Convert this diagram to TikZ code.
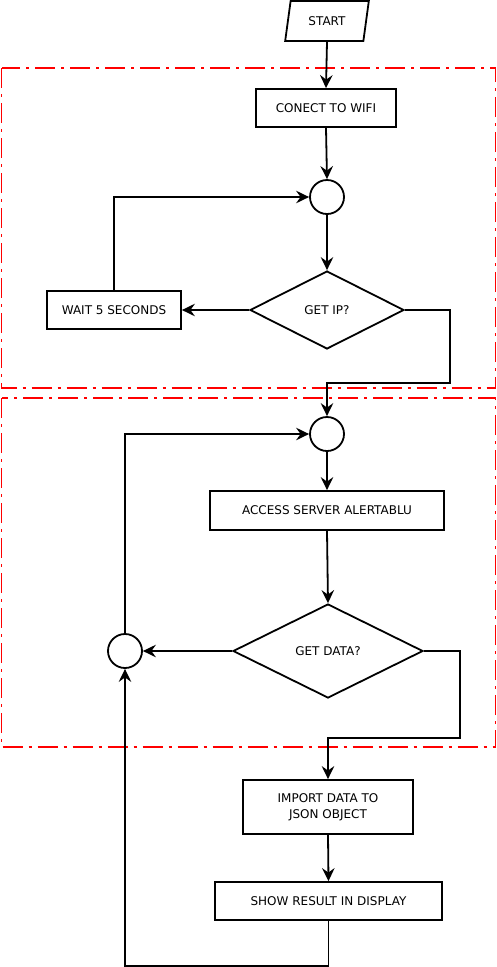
\documentclass[tikz,border=0pt]{standalone}
\usepackage{fontspec}
\setmainfont{DejaVu Sans}
\usetikzlibrary{shapes.geometric,arrows.meta}
\begin{document}
\begin{tikzpicture}[x=1pt,y=-1pt,
  every node/.style={font=\fontsize{12}{16}\selectfont},
  box/.style={draw,line width=1.8pt,rectangle,inner sep=0pt,align=center},
  dec/.style={draw,line width=1.8pt,diamond,inner sep=0pt},
  jn/.style={draw,line width=1.8pt,circle,inner sep=0pt,minimum size=34pt},
  io/.style={draw,line width=1.8pt,trapezium,trapezium left angle=73,trapezium right angle=107,trapezium stretches=true,inner sep=0pt,minimum width=84pt,minimum height=40pt},
  arr/.style={line width=1.8pt,-{Stealth[length=13pt,width=12.5pt,inset=4.5pt]}},
  redbox/.style={draw=red,line width=1.6pt,dash pattern=on 20pt off 6pt on 3pt off 6pt}]
\useasboundingbox (0,0) rectangle (497,967);
\draw[redbox] (1.5,68) rectangle (495.5,388);
\draw[redbox] (1.5,398) rectangle (495.5,747);
\node[io] (start) at (327,21) {START};
\node[box,minimum width=140pt,minimum height=38pt] (wifi) at (326,108) {CONECT TO WIFI};
\node[jn] (c1) at (327,197) {};
\node[dec,minimum width=154pt,minimum height=78pt] (ip) at (327,310) {GET IP?};
\node[box,minimum width=134pt,minimum height=38pt] (wait) at (114,310) {WAIT 5 SECONDS};
\node[jn] (c2) at (327,434) {};
\node[box,minimum width=234pt,minimum height=39pt] (acc) at (327,510.5) {ACCESS SERVER ALERTABLU};
\node[dec,minimum width=190pt,minimum height=94pt] (data) at (328,651) {GET DATA?};
\node[jn] (c3) at (125,651) {};
\node[box,minimum width=170pt,minimum height=54pt] (imp) at (328,807) {IMPORT DATA TO\\JSON OBJECT};
\node[box,minimum width=227pt,minimum height=38pt] (show) at (328.5,901) {SHOW RESULT IN DISPLAY};
\draw[arr] (start.south) -- (wifi.north);
\draw[arr] (wifi.south) -- (c1.north);
\draw[arr] (c1.south) -- (ip.north);
\draw[arr] (ip.west) -- (wait.east);
\draw[arr] (wait.north) |- (c1.west);
\draw[arr] (ip.east) -- (450,310) -- (450,383) -- (327,383) -- (c2.north);
\draw[arr] (c2.south) -- (acc.north);
\draw[arr] (acc.south) -- (data.north);
\draw[arr] (data.west) -- (c3.east);
\draw[arr] (c3.north) |- (c2.west);
\draw[arr] (data.east) -- (460,651) -- (460,738) -- (328,738) -- (imp.north);
\draw[arr] (imp.south) -- (show.north);
\draw[arr] (show.south) -- (328.5,966) -- (125,966) -- (c3.south);
\end{tikzpicture}
\end{document}
